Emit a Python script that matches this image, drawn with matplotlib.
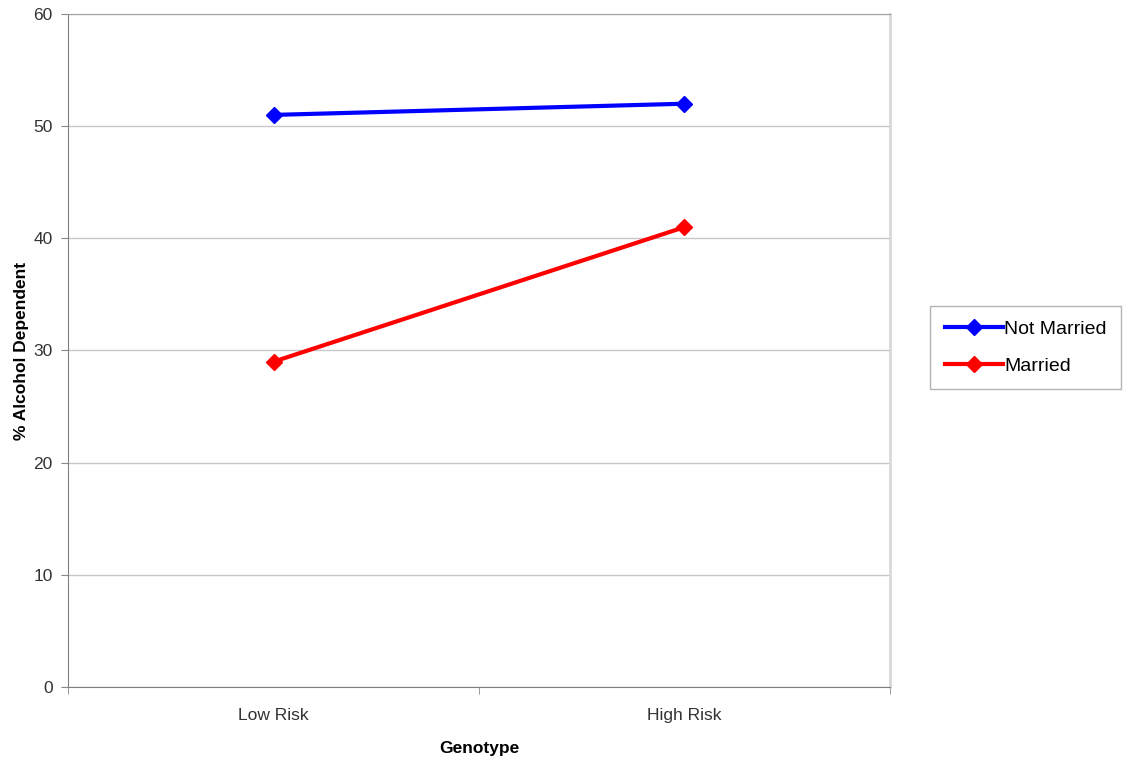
import matplotlib
matplotlib.use("Agg")
import matplotlib.pyplot as plt

# values
genotype = ["Low Risk", "High Risk"]
not_married = [51, 52]
married = [29, 41]

plt.rcParams["font.family"] = ["Liberation Sans", "DejaVu Sans"]

fig = plt.figure(figsize=(11.26, 7.63), dpi=100)
ax = fig.add_axes([0.0604, 0.0996, 0.7300, 0.8821])

x = range(len(genotype))
ax.plot(x, not_married, color="#0000FF", lw=3, marker="D", ms=8, label="Not Married")
ax.plot(x, married, color="#FF0000", lw=3, marker="D", ms=8, label="Married")

ax.set_xlim(-0.5, 1.5)
ax.set_ylim(0, 60)
ax.set_yticks(range(0, 61, 10))
ax.yaxis.grid(True, color="#c8c8c8", lw=1)
ax.set_axisbelow(True)
ax.set_xticks(list(x))
ax.set_xticklabels(genotype, fontsize=12.5, color="#333")
ax.set_xticks([-0.5, 0.5, 1.5], minor=True)
ax.tick_params(axis="x", which="major", length=0, pad=15)
ax.tick_params(axis="x", which="minor", length=5, color="#888")
ax.tick_params(axis="y", length=5, color="#888", labelsize=12.5, labelcolor="#333", pad=6)

for s in ["left", "bottom"]:
    ax.spines[s].set_color("#808080")
ax.spines["top"].set_color("#a0a0a0")
ax.spines["right"].set_color("#d8d8d8")
ax.spines["right"].set_linewidth(2)

ax.set_xlabel("Genotype", fontsize=12.5, fontweight="bold", labelpad=13)
ax.set_ylabel("% Alcohol Dependent", fontsize=12.5, fontweight="bold")
ax.yaxis.set_label_coords(-0.047, 0.5)

leg = fig.legend(loc="center left", bbox_to_anchor=(0.826, 0.5446), fontsize=14,
                 frameon=True, fancybox=False, edgecolor="#a0a0a0",
                 handlelength=3.0, handletextpad=0.05, labelspacing=1.0,
                 borderpad=0.75, borderaxespad=0)
leg.get_frame().set_linewidth(1)

fig.savefig("out.png", dpi=100)
